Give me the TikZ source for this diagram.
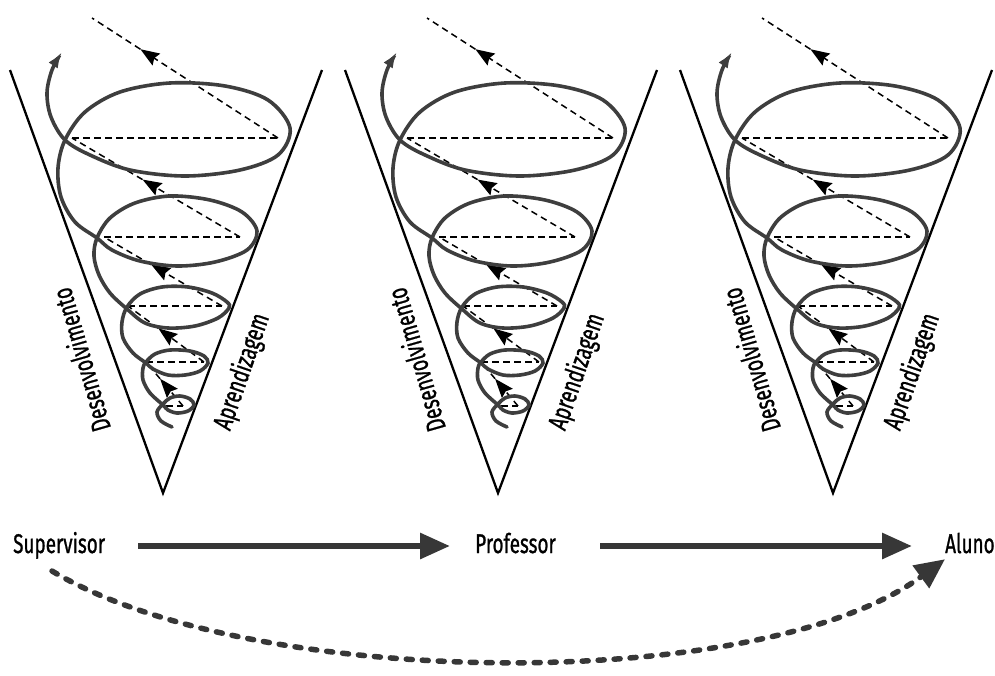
\documentclass[tikz,border=0pt]{standalone}
\usepackage{fontspec}
\setmainfont[FakeBold=1.2]{Fira Sans}
\usetikzlibrary{arrows.meta,calc}
\definecolor{spiralc}{RGB}{62,62,62}
\definecolor{arrowc}{RGB}{55,55,55}
\newcommand{\narrow}[1]{\scalebox{0.7}[1]{#1}}
\tikzset{
  conel/.style={line width=2.3pt, black},
  spiral/.style={line width=3.6pt, spiralc, line cap=round},
  guide/.style={line width=1.5pt, black, dash pattern=on 6.5pt off 4.5pt},
  guidetip/.style={guide, -{Stealth[length=19pt,width=14pt,inset=2.5pt]}},
  lab/.style={font=\fontsize{27}{30}\selectfont, inner sep=0pt, text height=20pt, text depth=6pt},
  flowarrow/.style={line width=6pt, arrowc, -{Triangle[length=30pt,width=25pt]}},
  backarrow/.style={line width=5.5pt, arrowc, dash pattern=on 6pt off 10pt, line cap=round, -{Triangle[length=30pt,width=27pt]}},
}
\begin{document}
\begin{tikzpicture}[x=1pt,y=-1pt]
\useasboundingbox (0,0) rectangle (995,675);
\foreach \i in {0,1,2}{
\begin{scope}[shift={(335*\i,0)}]
  % cone
  \coordinate (tl\i) at (10,70);
  \coordinate (apex\i) at (163,493);
  \coordinate (tr\i) at (322,70);
  \draw[conel] (tl\i) -- (apex\i) -- (tr\i);
  % guide points
  \coordinate (la\i) at (166,406); \coordinate (ra\i) at (183,406);
  \coordinate (lb\i) at (146,362); \coordinate (rb\i) at (204,362);
  \coordinate (lc\i) at (128,306); \coordinate (rc\i) at (222,306);
  \coordinate (ld\i) at (104,237); \coordinate (rd\i) at (240,237);
  \coordinate (le\i) at (72,138);  \coordinate (re\i) at (278,138);
  \coordinate (top\i) at (92,18);
  \draw[guide] (la\i) -- (ra\i);
  \draw[guidetip] (ra\i) -- ($(ra\i)!0.62!(lb\i)$);
  \draw[guide] ($(ra\i)!0.62!(lb\i)$) -- (lb\i);
  \draw[guide] (lb\i) -- (rb\i);
  \draw[guidetip] (rb\i) -- ($(rb\i)!0.6!(lc\i)$);
  \draw[guide] ($(rb\i)!0.6!(lc\i)$) -- (lc\i);
  \draw[guide] (lc\i) -- (rc\i);
  \draw[guidetip] (rc\i) -- ($(rc\i)!0.6!(ld\i)$);
  \draw[guide] ($(rc\i)!0.6!(ld\i)$) -- (ld\i);
  \draw[guide] (ld\i) -- (rd\i);
  \draw[guidetip] (rd\i) -- ($(rd\i)!0.58!(le\i)$);
  \draw[guide] ($(rd\i)!0.58!(le\i)$) -- (le\i);
  \draw[guide] (le\i) -- (re\i);
  \draw[guidetip] (re\i) -- ($(re\i)!0.74!(top\i)$);
  \draw[guide] ($(re\i)!0.74!(top\i)$) -- (top\i);
  % spiral
  \draw[spiral, -{Latex[length=16pt,width=11pt]}] plot[smooth, tension=0.55] coordinates {
    (172,427) (161,421) (157,412) (163,404)
    (170,398) (180,396) (190,399) (194,405) (188,411) (177,413) (168,410) (163,405)
    (150,393) (143,380) (143,368) (146,362)
    (155,354) (170,350) (190,351) (204,356) (208,363) (200,371) (185,375) (168,375) (153,369) (146,363)
    (133,353) (123,338) (122,322) (127,307)
    (140,294) (162,287) (188,287) (212,293) (227,302) (229,308) (218,318) (195,326) (168,328) (145,323) (127,309)
    (110,293) (99,275) (94,256) (97,238)
    (110,218) (135,203) (170,196) (210,200) (242,212) (257,231) (247,250) (215,262) (177,266) (140,261) (112,250) (97,238)
    (75,222) (61,197) (58,168) (65,140)
    (85,112) (120,92) (170,83) (225,86) (268,100) (290,128) (278,155) (240,170) (185,176) (130,170) (90,155) (65,140)
    (51,117) (47,93) (52,70) (62,52)};
  % labels
  \node[lab, rotate=106] (dev\i) at (84,359) {\narrow{Desenvolvimento}};
  \node[lab, rotate=71] (apr\i) at (243,372) {\narrow{Aprendizagem}};
\end{scope}
}
\node[lab, anchor=base west] (sup) at (13,553) {\narrow{Supervisor}};
\node[lab, anchor=base west] (prof) at (475,553) {\narrow{Professor}};
\node[lab, anchor=base west] (alu) at (945,553) {\narrow{Aluno}};
\draw[flowarrow, shorten <=33pt, shorten >=25pt] (sup.east) -- (prof.west);
\draw[flowarrow, shorten <=44pt, shorten >=33pt] (prof.east) -- (alu.west);
\coordinate (arcs) at (52,571);
\draw[backarrow] (arcs) .. controls (250,690) and (760,695) .. (alu.south west);
\end{tikzpicture}
\end{document}
